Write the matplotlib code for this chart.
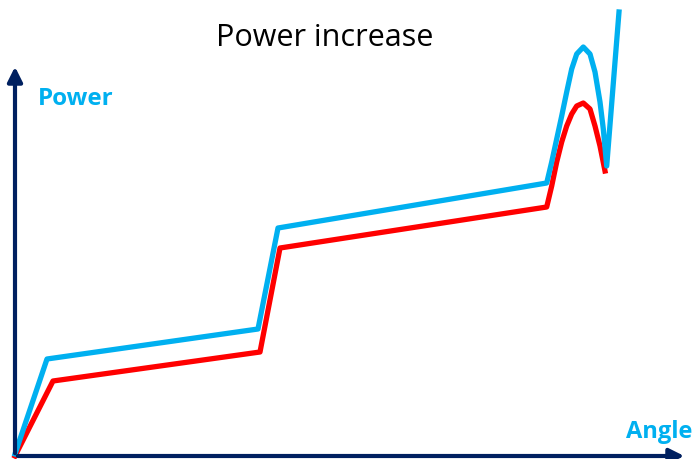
import matplotlib.pyplot as plt

# readings (angle, power) in arbitrary units, origin at the axes corner
blue_angle = [0, 32, 243, 263, 531.7, 536.7, 541.7, 546.7, 551.7, 556.7,
              561.7, 568.3, 575, 580, 585, 588.3, 591.7, 604]
blue_power = [2, 97, 127, 228, 273, 294, 317, 340, 364, 387,
              402, 409, 402, 384, 354, 327, 290, 444]
red_angle = [0, 38, 245, 265, 531.7, 536.7, 541.7, 546.7, 551.7, 556.7,
             561.7, 568.3, 575, 580, 585, 590]
red_power = [0, 75, 104, 208, 249, 270, 294, 314, 330, 342,
             350, 353, 347, 330, 310, 285]

navy = "#002060"
blue = "#00B0F0"
red = "#FF0000"

fig = plt.figure(figsize=(6.96, 4.60), dpi=100)
ax = fig.add_axes([0, 0, 1, 1])
ax.set_xlim(-15, 681)
ax.set_ylim(-3, 457)
ax.axis("off")

# axes with arrow heads
ax.annotate("", xy=(0, 392), xytext=(0, 0),
            arrowprops=dict(arrowstyle="-|>", lw=3, color=navy, mutation_scale=22))
ax.annotate("", xy=(672, 0), xytext=(0, 0),
            arrowprops=dict(arrowstyle="-|>", lw=3, color=navy, mutation_scale=22))

ax.plot(red_angle, red_power, color=red, lw=3.8, solid_joinstyle="round")
ax.plot(blue_angle, blue_power, color=blue, lw=3.8, solid_joinstyle="round")

ax.text(310, 419, "Power increase", fontsize=22, family="Open Sans",
        ha="center", va="center")
ax.text(23, 358, "Power", fontsize=17.5, family="Open Sans", weight="bold",
        color=blue, ha="left", va="center")
ax.text(677, 25, "Angle", fontsize=17, family="Open Sans", weight="bold",
        color=blue, ha="right", va="center")

fig.savefig("out.png", dpi=100)
